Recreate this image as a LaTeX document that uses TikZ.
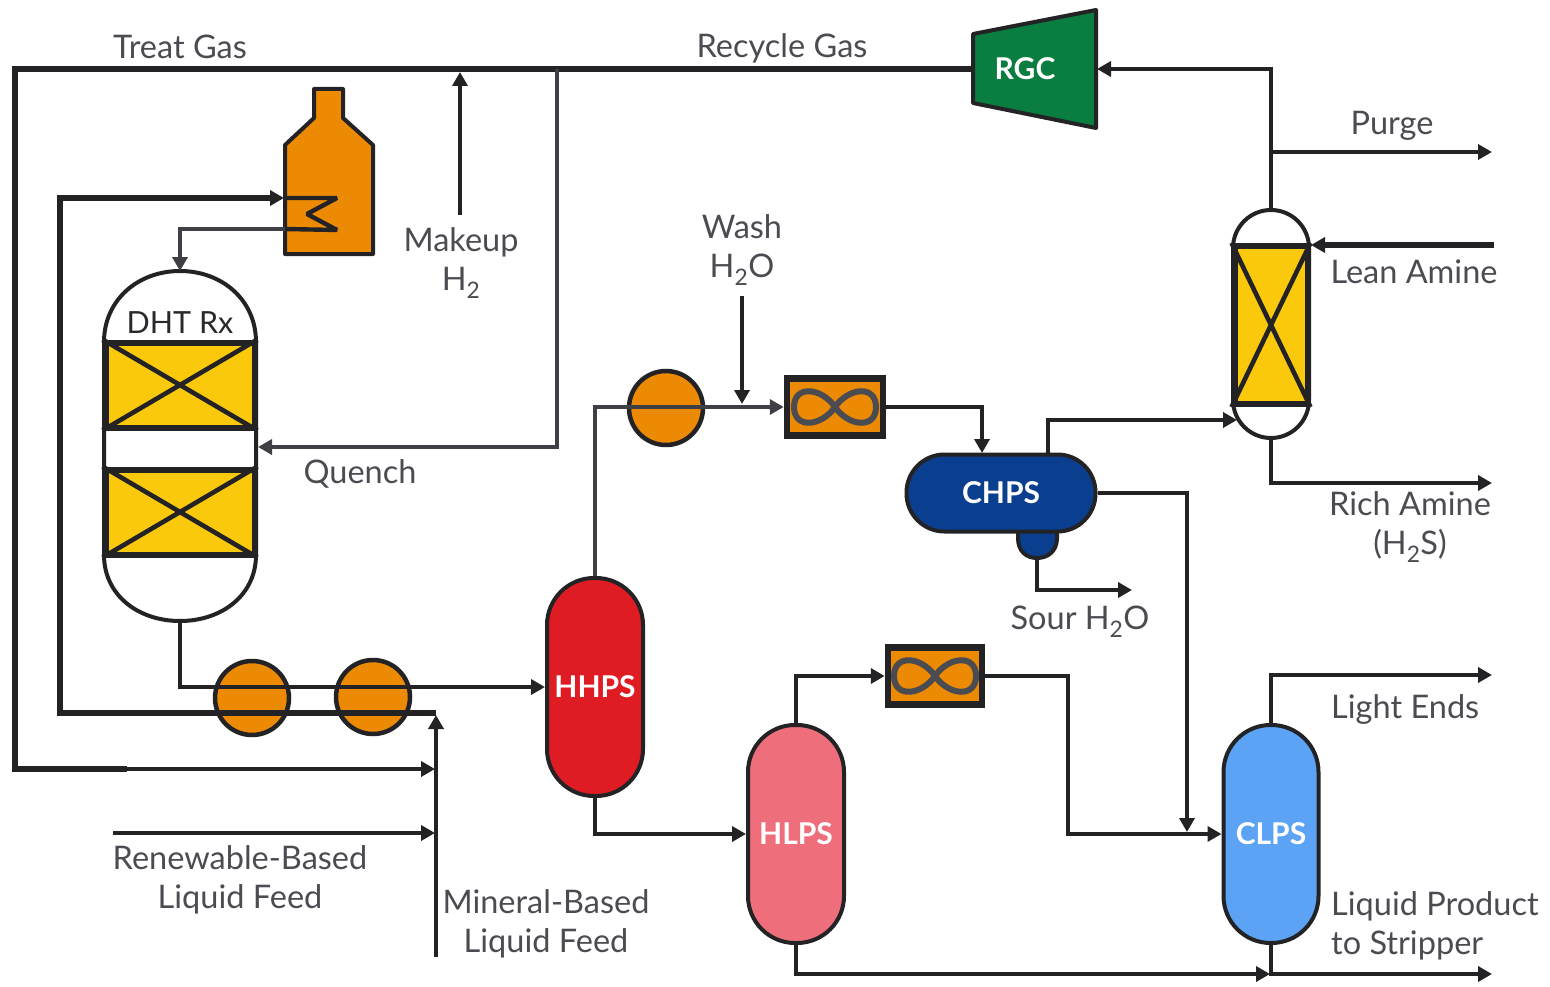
\documentclass[tikz,border=0pt]{standalone}
\usepackage{fontspec}
\setmainfont{Lato}
\usetikzlibrary{arrows.meta}
\definecolor{ln}{HTML}{232326}
\definecolor{txt}{HTML}{4B4C52}
\definecolor{orng}{HTML}{EC8A04}
\definecolor{yel}{HTML}{FBC90B}
\definecolor{redv}{HTML}{DF1C24}
\definecolor{pinkv}{HTML}{EE6E7C}
\definecolor{bluev}{HTML}{5CA3F6}
\definecolor{navy}{HTML}{0A3F8F}
\definecolor{grn}{HTML}{0A7D40}
\tikzset{
  pipe/.style={draw=ln,line width=4.4pt,line join=miter},
  heavy/.style={draw=ln,line width=5.6pt,line join=miter},
  flow/.style={-{Triangle[length=14pt,width=15pt]}},
  vessel/.style={draw=ln,line width=4pt,inner sep=0pt,text=white,font=\fontsize{30}{34}\selectfont\bfseries},
  bedbox/.style={draw=ln,fill=yel,line width=6pt,inner sep=0pt},
  hx/.style={draw=ln,fill=orng,line width=4.5pt,circle,inner sep=0pt,minimum width=74pt},
  cooler/.style={draw=ln,fill=orng,line width=6.5pt,inner sep=0pt},
  loopline/.style={draw=txt,line width=6pt},
  lbl/.style={text=txt,align=center,inner sep=0pt,font=\fontsize{32.5}{38.5}\selectfont},
  lbll/.style={lbl,align=left,anchor=west},
}
\newcommand{\sbt}{\textsubscript{2}}
\begin{document}
\begin{tikzpicture}[x=1pt,y=-1pt]
\useasboundingbox (0,0) rectangle (1550,987);
% free ends and junctions
\coordinate (tgcorner) at (15,69);
\coordinate (tgin) at (435,769);
\coordinate (mkfrom) at (460,215);
\coordinate (mkto) at (460,72);
\coordinate (qtap) at (557,69);
\coordinate (feedend) at (436,713);
\coordinate (minfrom) at (436,957);
\coordinate (minto) at (436,715);
\coordinate (renfrom) at (113,833);
\coordinate (rento) at (435,833);
\coordinate (washfrom) at (742,296);
\coordinate (washto) at (742,404);
\coordinate (coilin) at (284,198);
\coordinate (coilout) at (285,229);
\coordinate (purgeto) at (1492,152);
\coordinate (purgetap) at (1271,152);
\coordinate (leanfrom) at (1494,245);
\coordinate (richto) at (1492,483);
\coordinate (sourto) at (1132,590);
\coordinate (lightto) at (1492,675);
\coordinate (prodto) at (1492,974);
\coordinate (rgcin) at (1097,69);
\coordinate (rgcout) at (972,69);
% heater
\draw[draw=ln,fill=orng,line width=4pt,line join=round]
  (285,254) -- (285,145) -- (314,118) -- (314,89) -- (343,89) -- (343,118) -- (373,145) -- (373,254) -- cycle;
\draw[draw=ln,line width=4.4pt,line join=bevel] (coilin) -- (337,198) -- (307,214) -- (337,230) -- (coilout);
% reactor
\draw[draw=ln,fill=white,line width=4pt]
  (104,342) .. controls (104,300) and (138,271) .. (180,271)
  .. controls (222,271) and (256,300) .. (256,342)
  -- (256,555) .. controls (256,595) and (222,621) .. (180,621)
  .. controls (138,621) and (104,595) .. (104,555) -- cycle;
\coordinate (dhtin) at (180,271);
\coordinate (dhtq) at (258,447);
\coordinate (dhtout) at (180,621);
\node[bedbox,minimum width=149pt,minimum height=85pt] (bedA) at (180,385) {};
\node[bedbox,minimum width=149pt,minimum height=85pt] (bedB) at (180,512) {};
\draw[ln,line width=4.6pt] (bedA.north west) -- (bedA.south east) (bedA.north east) -- (bedA.south west);
\draw[ln,line width=4.6pt] (bedB.north west) -- (bedB.south east) (bedB.north east) -- (bedB.south west);
\node[lbl,font=\fontsize{30.5}{36}\selectfont,text=ln!85!txt] (dhtlabel) at (180,323) {DHT Rx};
% exchangers
\node[hx] (hxA) at (252,698) {};
\node[hx] (hxB) at (373,697) {};
\node[hx] (hxC) at (666,408) {};
% absorber
\node[vessel,fill=white,minimum width=76pt,minimum height=228pt,rounded corners=38pt] (abs) at (1271,324) {};
\node[bedbox,minimum width=73pt,minimum height=158pt] (bedC) at (1271,325) {};
\draw[ln,line width=4.6pt] (bedC.north west) -- (bedC.south east) (bedC.north east) -- (bedC.south west);
% separators
\node[vessel,fill=redv,minimum width=96pt,minimum height=218pt,rounded corners=47pt] (HHPS) at (595,687) {HHPS};
\node[vessel,fill=pinkv,minimum width=96pt,minimum height=218pt,rounded corners=47pt] (HLPS) at (796,834) {HLPS};
\node[vessel,fill=bluev,minimum width=95pt,minimum height=218pt,rounded corners=47pt] (CLPS) at (1271,834) {CLPS};
\draw[ln,fill=navy,line width=4pt] (1018,528) -- (1018,538) .. controls (1018,551) and (1026,558) .. (1037,558) .. controls (1048,558) and (1057,551) .. (1057,538) -- (1057,528) -- cycle;
\coordinate (bootout) at (1037,558);
\node[vessel,fill=navy,minimum width=189pt,minimum height=77pt,rounded corners=38pt] (CHPS) at (1001,493) {CHPS};
\coordinate (chpstop) at (1048,455);
\coordinate (chpsin) at (982,453);
% compressor
\draw[ln,fill=grn,line width=4pt,line join=round] (973,34) -- (1096,10) -- (1096,128) -- (973,103) -- cycle;
\node[text=white,font=\fontsize{30}{34}\selectfont\bfseries,inner sep=0pt] (RGC) at (1025,69) {RGC};
% coolers
\node[cooler,minimum width=96pt,minimum height=57pt] (coolA) at (835,407) {};
\draw[loopline,shift={(coolA.center)}] (0,0) .. controls (14,-20) and (41,-22) .. (41,0) .. controls (41,22) and (14,20) .. (0,0) .. controls (-14,-20) and (-41,-22) .. (-41,0) .. controls (-41,22) and (-14,20) .. (0,0) -- cycle;
\node[cooler,minimum width=94pt,minimum height=57pt] (coolB) at (935,676) {};
\draw[loopline,shift={(coolB.center)}] (0,0) .. controls (14,-20) and (41,-22) .. (41,0) .. controls (41,22) and (14,20) .. (0,0) .. controls (-14,-20) and (-41,-22) .. (-41,0) .. controls (-41,22) and (-14,20) .. (0,0) -- cycle;
% connectors
\draw[heavy] (rgcout) -- (tgcorner) -- (tgcorner |- tgin) -- (127,769);
\draw[pipe,flow] (127,769) -- (tgin);
\draw[pipe,flow] (mkfrom) -- (mkto);
\draw[pipe,draw=txt!70!ln,flow] (qtap) |- (dhtq);
\draw[heavy,flow] (feedend) -| (60,198) -- (coilin);
\draw[pipe,draw=txt!70!ln,flow] (coilout) -| (dhtin);
\draw[pipe] (dhtout) |- (hxA.west |- HHPS.west);
\draw[pipe,flow] (hxA.west |- HHPS.west) -- (HHPS.west);
\draw[pipe,flow] (minfrom) -- (minto);
\draw[pipe,flow] (renfrom) -- (rento);
\draw[pipe,draw=txt!70!ln,flow] (HHPS.north) |- (coolA.west);
\draw[pipe,flow] (washfrom) -- (washto);
\draw[pipe,flow] (coolA.east) -| (chpsin);
\draw[pipe,flow] (chpstop) |- (1237,420);
\draw[pipe,flow] (CHPS.east) -| (1187,832);
\draw[pipe,flow] (bootout) |- (sourto);
\draw[pipe,flow] (HHPS.south) |- (HLPS.west);
\draw[pipe,flow] (HLPS.north) |- (coolB.west);
\draw[pipe,flow] (coolB.east) -| (1068,834) -- (CLPS.west);
\draw[pipe,flow] (HLPS.south) |- (1270,974);
\draw[pipe,flow] (CLPS.south) |- (prodto);
\draw[pipe,flow] (CLPS.north) |- (lightto);
\draw[pipe,flow] (abs.north) |- (rgcin);
\draw[pipe,flow] (purgetap) -- (purgeto);
\draw[heavy,flow] (leanfrom) -- (abs.east |- leanfrom);
\draw[pipe,flow] (abs.south) |- (richto);
% labels
\node[lbl] (tTreat) at (180,47) {Treat Gas};
\node[lbl] (tRecycle) at (782,48) {Recycle Gas};
\node[lbl] (tPurge) at (1392,126) {Purge};
\node[lbl] (tMakeup) at (461,263) {Makeup\\H\sbt};
\node[lbl] (tWash) at (742,250) {Wash\\H\sbt O};
\node[lbl] (tLean) at (1414,272) {Lean Amine};
\node[lbl] (tRich) at (1410,527) {Rich Amine\\(H\sbt S)};
\node[lbl] (tSour) at (1080,622) {Sour H\sbt O};
\node[lbl] (tQuench) at (360,474) {Quench};
\node[lbl] (tRen) at (240,880) {Renewable-Based\\Liquid Feed};
\node[lbl] (tMin) at (546,924) {Mineral-Based\\Liquid Feed};
\node[lbll] (tLight) at (1331,709) {Light Ends};
\node[lbll] (tProd) at (1331,926) {Liquid Product\\to Stripper};
\end{tikzpicture}
\end{document}
